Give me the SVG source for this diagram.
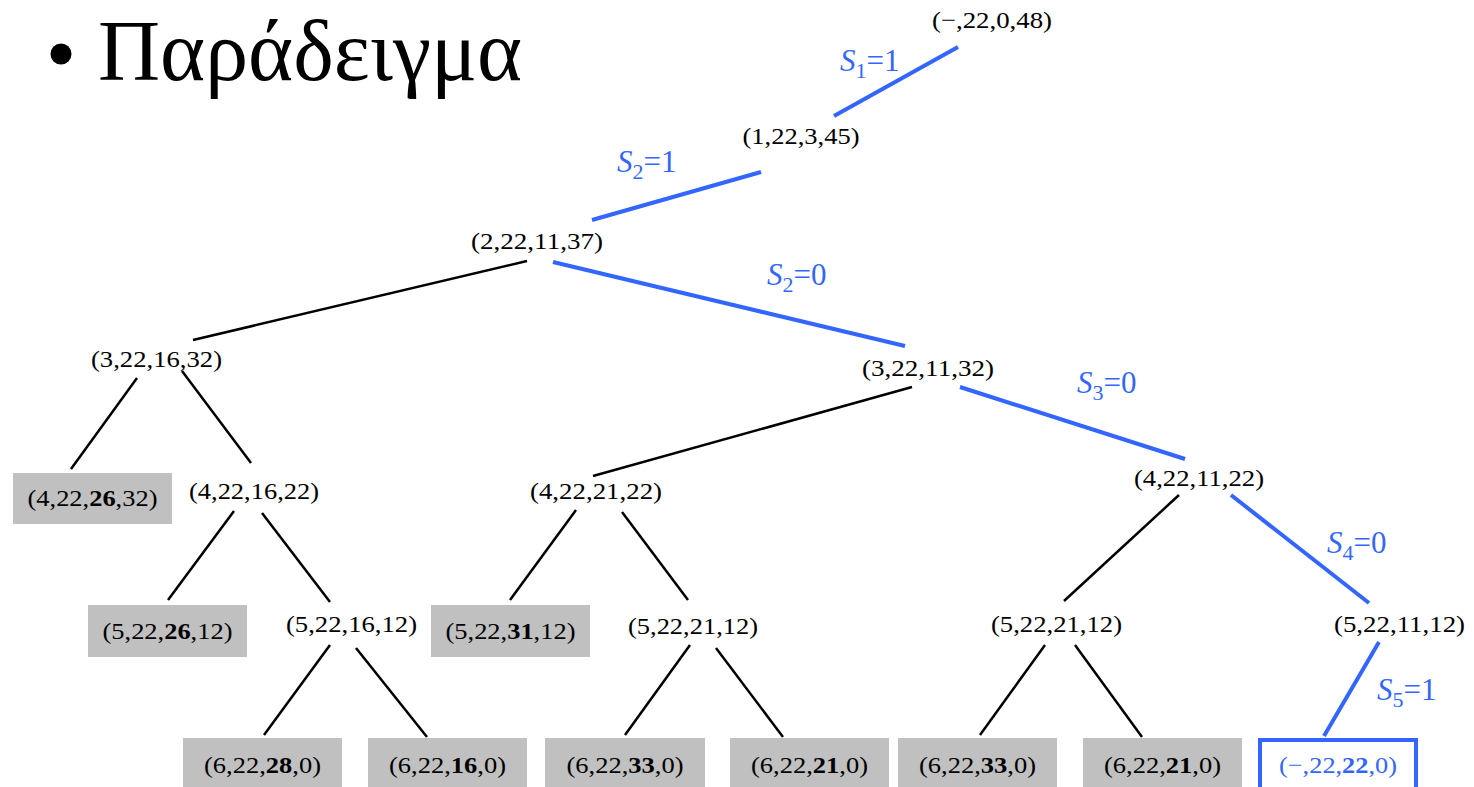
<svg xmlns="http://www.w3.org/2000/svg" width="1474" height="787" viewBox="0 0 1474 787">
<style>
.t{font-family:"Liberation Serif","Times New Roman",serif;font-size:24px;fill:#000;text-anchor:middle}
.b{font-weight:bold}
.box{fill:#C0C0C0}
.lk{stroke:#000;stroke-width:2.5;fill:none}
.lb{stroke:#3366FF;stroke-width:4;fill:none}
.lbl{font-family:"Liberation Serif","Times New Roman",serif;font-size:31px;fill:#3366FF}
.s{font-style:italic}
.sub{font-size:22px}
</style>
<rect width="1474" height="787" fill="#fff"/>
<g id="title">
<circle cx="61" cy="54" r="10.5" fill="#000"/>
<text x="98" y="80" font-family="'Liberation Serif', serif" font-size="86">Παράδειγμα</text>
</g>
<g id="connectors">
<line class="lb" x1="958" y1="47" x2="834" y2="116"/>
<line class="lb" x1="761" y1="172" x2="592" y2="220"/>
<line class="lb" x1="553" y1="262" x2="905" y2="346"/>
<line class="lb" x1="960" y1="387" x2="1185" y2="459"/>
<line class="lb" x1="1231" y1="495" x2="1369" y2="603"/>
<line class="lb" x1="1379" y1="642" x2="1324" y2="736"/>
<line class="lk" x1="527" y1="261" x2="193" y2="340"/>
<line class="lk" x1="912" y1="387" x2="593" y2="476"/>
<line class="lk" x1="137" y1="378" x2="71" y2="469"/>
<line class="lk" x1="182" y1="371" x2="251" y2="463"/>
<line class="lk" x1="234" y1="511" x2="168" y2="600"/>
<line class="lk" x1="262" y1="513" x2="330" y2="602"/>
<line class="lk" x1="576" y1="510" x2="510" y2="600"/>
<line class="lk" x1="622" y1="512" x2="688" y2="600"/>
<line class="lk" x1="1179" y1="495" x2="1064" y2="601"/>
<line class="lk" x1="330" y1="645" x2="264" y2="735"/>
<line class="lk" x1="356" y1="648" x2="427" y2="737"/>
<line class="lk" x1="690" y1="645" x2="625" y2="735"/>
<line class="lk" x1="716" y1="648" x2="783" y2="737"/>
<line class="lk" x1="1045" y1="645" x2="980" y2="735"/>
<line class="lk" x1="1075" y1="645" x2="1142" y2="737"/>
</g>
<g id="labels">
<text class="lbl" x="840" y="71"><tspan class="s">S</tspan><tspan class="sub" dy="7">1</tspan><tspan dy="-7">=1</tspan></text>
<text class="lbl" x="617" y="172"><tspan class="s">S</tspan><tspan class="sub" dy="7">2</tspan><tspan dy="-7">=1</tspan></text>
<text class="lbl" x="767" y="285"><tspan class="s">S</tspan><tspan class="sub" dy="7">2</tspan><tspan dy="-7">=0</tspan></text>
<text class="lbl" x="1077" y="393"><tspan class="s">S</tspan><tspan class="sub" dy="7">3</tspan><tspan dy="-7">=0</tspan></text>
<text class="lbl" x="1327" y="553"><tspan class="s">S</tspan><tspan class="sub" dy="7">4</tspan><tspan dy="-7">=0</tspan></text>
<text class="lbl" x="1377" y="700"><tspan class="s">S</tspan><tspan class="sub" dy="7">5</tspan><tspan dy="-7">=1</tspan></text>
</g>
<g id="n0"><text class="t" x="992" y="28" textLength="120" lengthAdjust="spacingAndGlyphs">(−,22,0,48)</text></g>
<g id="n1"><text class="t" x="801" y="144" textLength="117" lengthAdjust="spacingAndGlyphs">(1,22,3,45)</text></g>
<g id="n2"><text class="t" x="537" y="249" textLength="132" lengthAdjust="spacingAndGlyphs">(2,22,11,37)</text></g>
<g id="n3a"><text class="t" x="156.5" y="367" textLength="131" lengthAdjust="spacingAndGlyphs">(3,22,16,32)</text></g>
<g id="n3b"><text class="t" x="928" y="376" textLength="132" lengthAdjust="spacingAndGlyphs">(3,22,11,32)</text></g>
<g id="n4a"><rect class="box" x="13" y="473" width="159" height="51"/><text class="t" x="92.5" y="506" textLength="130" lengthAdjust="spacingAndGlyphs">(4,22,<tspan class="b">26</tspan>,32)</text></g>
<g id="n4b"><text class="t" x="254" y="499" textLength="130" lengthAdjust="spacingAndGlyphs">(4,22,16,22)</text></g>
<g id="n4c"><text class="t" x="596" y="499" textLength="132" lengthAdjust="spacingAndGlyphs">(4,22,21,22)</text></g>
<g id="n4d"><text class="t" x="1199" y="486" textLength="130" lengthAdjust="spacingAndGlyphs">(4,22,11,22)</text></g>
<g id="n5a"><rect class="box" x="88" y="605" width="159" height="52"/><text class="t" x="167.5" y="639" textLength="130" lengthAdjust="spacingAndGlyphs">(5,22,<tspan class="b">26</tspan>,12)</text></g>
<g id="n5b"><text class="t" x="351.5" y="632" textLength="131" lengthAdjust="spacingAndGlyphs">(5,22,16,12)</text></g>
<g id="n5c"><rect class="box" x="431" y="605" width="159" height="52"/><text class="t" x="510.5" y="639" textLength="130" lengthAdjust="spacingAndGlyphs">(5,22,<tspan class="b">31</tspan>,12)</text></g>
<g id="n5d"><text class="t" x="693" y="634" textLength="130" lengthAdjust="spacingAndGlyphs">(5,22,21,12)</text></g>
<g id="n5e"><text class="t" x="1056.5" y="632" textLength="131" lengthAdjust="spacingAndGlyphs">(5,22,21,12)</text></g>
<g id="n5f"><text class="t" x="1399.5" y="632" textLength="131" lengthAdjust="spacingAndGlyphs">(5,22,11,12)</text></g>
<g id="n6a"><rect class="box" x="183" y="738" width="159" height="51"/><text class="t" x="262.5" y="773" textLength="117" lengthAdjust="spacingAndGlyphs">(6,22,<tspan class="b">28</tspan>,0)</text></g>
<g id="n6b"><rect class="box" x="368" y="738" width="159" height="51"/><text class="t" x="447.5" y="773" textLength="117" lengthAdjust="spacingAndGlyphs">(6,22,<tspan class="b">16</tspan>,0)</text></g>
<g id="n6c"><rect class="box" x="545" y="738" width="160" height="51"/><text class="t" x="625" y="773" textLength="117" lengthAdjust="spacingAndGlyphs">(6,22,<tspan class="b">33</tspan>,0)</text></g>
<g id="n6d"><rect class="box" x="730" y="738" width="159" height="51"/><text class="t" x="809.5" y="773" textLength="117" lengthAdjust="spacingAndGlyphs">(6,22,<tspan class="b">21</tspan>,0)</text></g>
<g id="n6e"><rect class="box" x="898" y="738" width="159" height="51"/><text class="t" x="977.5" y="773" textLength="117" lengthAdjust="spacingAndGlyphs">(6,22,<tspan class="b">33</tspan>,0)</text></g>
<g id="n6f"><rect class="box" x="1083" y="738" width="159" height="51"/><text class="t" x="1162.5" y="773" textLength="117" lengthAdjust="spacingAndGlyphs">(6,22,<tspan class="b">21</tspan>,0)</text></g>
<g id="n6g"><rect x="1260" y="740" width="156" height="50" fill="none" stroke="#3366FF" stroke-width="4"/><text class="t" x="1338" y="773" textLength="118" lengthAdjust="spacingAndGlyphs" style="fill:#3366FF">(−,22,<tspan class="b">22</tspan>,0)</text></g>
</svg>
